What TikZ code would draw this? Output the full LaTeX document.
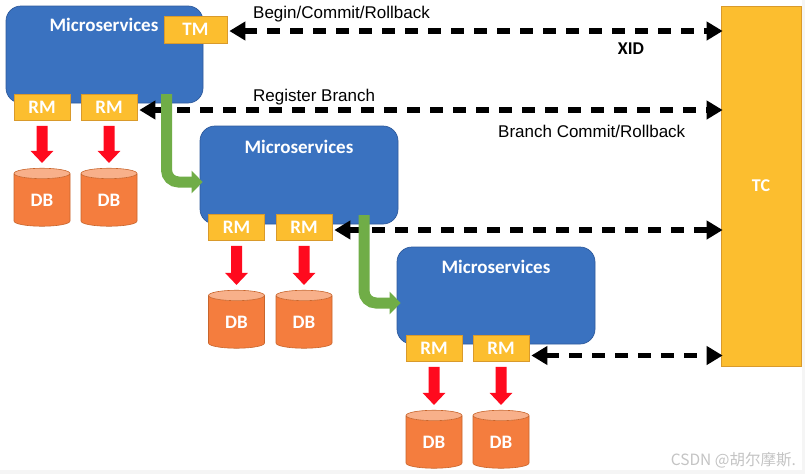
\documentclass[tikz,border=0pt]{standalone}
\usepackage{fontspec}
\setmainfont{Carlito}
\newfontfamily\labfont{Liberation Sans}
\newfontfamily\cjkfont{Noto Sans CJK SC}
\usetikzlibrary{arrows.meta,shapes.geometric}
\definecolor{msblue}{HTML}{3A72C0}
\definecolor{msedge}{HTML}{2F5B9C}
\definecolor{ylw}{HTML}{FCBE2F}
\definecolor{ylwedge}{HTML}{D99A2B}
\definecolor{dbbody}{HTML}{F47D3E}
\definecolor{dbtop}{HTML}{F8B08A}
\definecolor{dbedge}{HTML}{C8652C}
\definecolor{redarr}{HTML}{FF0A1E}
\definecolor{grnarr}{HTML}{70AD47}
\definecolor{wmgray}{HTML}{C4C4C4}
\tikzset{
  msbox/.style={rectangle, rounded corners=15pt, fill=msblue, draw=msedge, line width=0.7pt, inner sep=0pt},
  mstext/.style={text=white, font=\fontsize{19}{22}\selectfont\bfseries, inner sep=0pt},
  ybox/.style={rectangle, fill=ylw, draw=ylwedge, line width=0.7pt, inner sep=0pt, text=white,
     font=\fontsize{19}{21}\selectfont\bfseries, minimum width=56pt, minimum height=26pt},
  dbcyl/.style={cylinder, shape border rotate=90, aspect=0.46, draw=dbedge, line width=0.6pt,
     cylinder uses custom fill, cylinder body fill=dbbody, cylinder end fill=dbtop,
     minimum width=56pt, minimum height=58pt, inner sep=0pt, text=white,
     font=\fontsize{19}{22}\selectfont\bfseries},
  dasharr/.style={line width=5.5pt, dash pattern=on 13pt off 10pt,
     {Triangle[length=16pt,width=18pt]}-{Triangle[length=16pt,width=18pt]}},
  redarrow/.style={draw=redarr, line width=11pt, -{Triangle[length=12pt,width=22pt]}},
  grnarrow/.style={draw=grnarr, line width=11pt, rounded corners=12pt, -{Triangle[length=11pt,width=22pt]}},
  labtext/.style={font=\labfont\fontsize{17}{20}\selectfont, inner sep=0pt, anchor=base west},
}
\newcommand{\dbtxt}{\raisebox{-3pt}{DB}}
\begin{document}
\begin{tikzpicture}[x=1pt,y=-1pt]
\fill[gray!8] (0,0) rectangle (805,474);
\fill[white] (0,0) rectangle (802,470);
\useasboundingbox (0,0) rectangle (805,474);
% microservices boxes
\node[msbox, minimum width=197pt, minimum height=97pt] (ms1) at (104.5,54.5) {};
\node[msbox, minimum width=198pt, minimum height=98pt] (ms2) at (299,175) {};
\node[msbox, minimum width=198pt, minimum height=97pt] (ms3) at (496,295.5) {};
\node[mstext] (ms1t) at (104,25) {Microservices};
\node[mstext] (ms2t) at (299,146.5) {Microservices};
\node[mstext] (ms3t) at (496,267) {Microservices};
% TC
\node[rectangle, fill=ylw, draw=ylwedge, line width=0.7pt, minimum width=80pt, minimum height=360pt,
  text=white, font=\fontsize{18}{21}\selectfont\bfseries] (tc) at (761,186) {TC};
% TM and RMs
\node[ybox, minimum width=63pt, minimum height=27pt] (tm) at (195.5,29.5) {TM};
\node[ybox] (rm1a) at (42,107.5) {RM};
\node[ybox] (rm1b) at (109,107.5) {RM};
\node[ybox] (rm2a) at (236.5,227.5) {RM};
\node[ybox] (rm2b) at (304,227.5) {RM};
\node[ybox] (rm3a) at (434,348.5) {RM};
\node[ybox] (rm3b) at (501,348.5) {RM};
% DBs
\node[dbcyl] (db1a) at (42,200) {\dbtxt};
\node[dbcyl] (db1b) at (109,200) {\dbtxt};
\node[dbcyl] (db2a) at (236.5,322) {\dbtxt};
\node[dbcyl] (db2b) at (304,322) {\dbtxt};
\node[dbcyl] (db3a) at (434,442) {\dbtxt};
\node[dbcyl] (db3b) at (501,442) {\dbtxt};
% red arrows
\foreach \r/\d in {rm1a/db1a, rm1b/db1b, rm2a/db2a, rm2b/db2b, rm3a/db3a, rm3b/db3b}
  \draw[redarrow] ([yshift=-5pt]\r.south) -- ([yshift=5pt]\d.north);
% dashed arrows
\draw[dasharr] ([xshift=2pt,yshift=-1.5pt]tm.east) -- ([xshift=2pt,yshift=-1.5pt]tm.east -| tc.west);
\draw[dasharr] ([xshift=2pt,yshift=-2.5pt]rm1b.east) -- ([xshift=2pt,yshift=-2.5pt]rm1b.east -| tc.west);
\draw[dasharr] ([xshift=2pt,yshift=-2.5pt]rm2b.east) -- ([xshift=2pt,yshift=-2.5pt]rm2b.east -| tc.west);
\draw[dasharr] ([xshift=2pt,yshift=-7pt]rm3b.east) -- ([xshift=2pt,yshift=-7pt]rm3b.east -| tc.west);
% labels
\node[labtext] (l1) at (253,18.5) {Begin/Commit/Rollback};
\node[labtext] (l2) at (253,101) {Register Branch};
\node[labtext] (l3) at (498,137) {Branch Commit/Rollback};
\node[font=\fontsize{18}{21}\selectfont\bfseries, inner sep=0pt] (xid) at (631,48.5) {XID};
% green arrows
\coordinate (g1) at (166.5,94);
\coordinate (g2) at (364,215);
\draw[grnarrow] (g1) |- ([xshift=3pt,yshift=-7pt]ms2.west);
\draw[grnarrow] (g2) |- ([xshift=4pt,yshift=-7.5pt]ms3.west);
% watermark
\node[anchor=base east, inner sep=0pt, text=wmgray, font=\cjkfont\fontsize{15.5}{17}\selectfont] (wm) at (796,465) {CSDN @胡尔摩斯.};
\end{tikzpicture}
\end{document}
